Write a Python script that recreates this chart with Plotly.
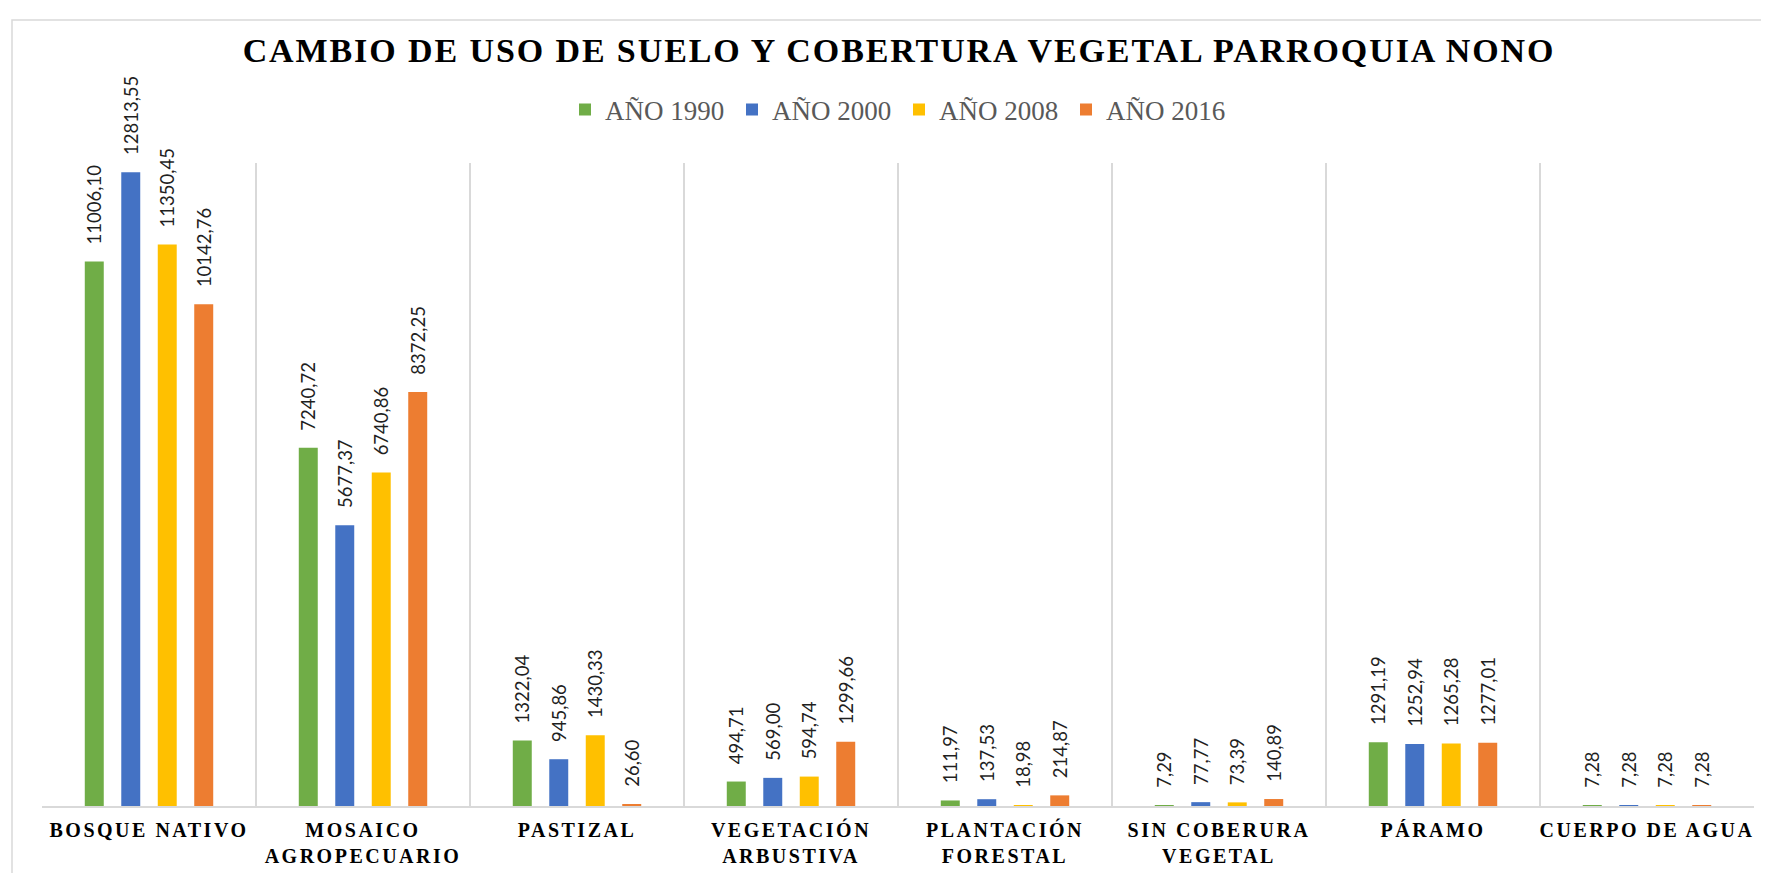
import plotly.graph_objects as go

# categorias y superficies (ha) por año
categorias = ["BOSQUE NATIVO", "MOSAICO<br>AGROPECUARIO", "PASTIZAL", "VEGETACIÓN<br>ARBUSTIVA",
              "PLANTACIÓN<br>FORESTAL", "SIN COBERURA<br>VEGETAL", "PÁRAMO", "CUERPO DE AGUA"]
anio_1990 = [11006.10, 7240.72, 1322.04, 494.71, 111.97, 7.29, 1291.19, 7.28]
anio_2000 = [12813.55, 5677.37, 945.86, 569.00, 137.53, 77.77, 1252.94, 7.28]
anio_2008 = [11350.45, 6740.86, 1430.33, 594.74, 18.98, 73.39, 1265.28, 7.28]
anio_2016 = [10142.76, 8372.25, 26.60, 1299.66, 214.87, 140.89, 1277.01, 7.28]

series = [
    ("AÑO 1990", anio_1990, "#70AD47"),
    ("AÑO 2000", anio_2000, "#4472C4"),
    ("AÑO 2008", anio_2008, "#FFC000"),
    ("AÑO 2016", anio_2016, "#ED7D31"),
]

W, H = 1769, 873
L, R, T, B = 34, 23, 155, 75
PW, PH = W - L - R, H - T - B


def espaciado(txt, px):
    # letter-spacing por linea para imitar el estilo de Excel
    return "<br>".join(f"<span style='letter-spacing:{px}px'>{p}</span>" for p in txt.split("<br>"))


fig = go.Figure()

for nombre, valores, color in series:
    fig.add_trace(go.Bar(
        x=categorias,
        y=valores,
        name=nombre,
        marker_color=color,
        marker_line_width=0,
        texttemplate="\u00a0\u00a0\u00a0%{y:.2f}",
        textposition="outside",
        textangle=-90,
        constraintext="none",
        cliponaxis=False,
        textfont=dict(family="Lato, Open Sans, sans-serif", size=18.5, color="#1f1f1f"),
    ))

fig.update_layout(
    width=W, height=H,
    margin=dict(l=L, r=R, t=T, b=B, autoexpand=False),
    paper_bgcolor="white",
    plot_bgcolor="white",
    separators=",.",
    barmode="group",
    bargap=0.318,
    bargroupgap=0.48,
    title=dict(
        text=espaciado("CAMBIO DE USO DE SUELO Y COBERTURA VEGETAL PARROQUIA NONO", 1.9),
        font=dict(family="Liberation Serif, Times New Roman, serif", size=34, color="black",
                  weight="bold"),
        x=891 / W, xref="container", xanchor="center",
        y=1 - 42 / H, yref="container", yanchor="middle",
    ),
    legend=dict(
        orientation="h",
        x=(891 - L) / PW, xanchor="center",
        y=1 + 53 / PH, yanchor="middle",
        font=dict(family="Liberation Serif, Times New Roman, serif", size=27, color="#595959"),
        entrywidth=122, entrywidthmode="pixels",
        bgcolor="rgba(0,0,0,0)",
    ),
    showlegend=True,
    shapes=[dict(type="rect", xref="paper", yref="paper",
                 x0=(4 - L) / PW, x1=(W + 5 - L) / PW,
                 y0=-0.2, y1=1 + (T - 12) / PH,
                 line=dict(color="#D9D9D9", width=1.5), layer="below")],
)

fig.update_xaxes(
    type="category",
    tickmode="array",
    tickvals=categorias,
    ticktext=[espaciado(c, 2.5) for c in categorias],
    tickangle=0,
    tickfont=dict(family="Liberation Serif, Times New Roman, serif", size=20, color="black",
                  weight="bold"),
    range=[-0.5, len(categorias) - 0.5],
    tickson="boundaries",
    ticks="",
    showgrid=True, gridcolor="#D9D9D9", gridwidth=1.5,
    showline=True, linecolor="#D9D9D9", linewidth=1.5,
    ticklabelstandoff=5,
)
fig.update_yaxes(
    range=[0, 13000],
    visible=False,
    showgrid=False,
    zeroline=False,
)

fig.write_html("out.html")
